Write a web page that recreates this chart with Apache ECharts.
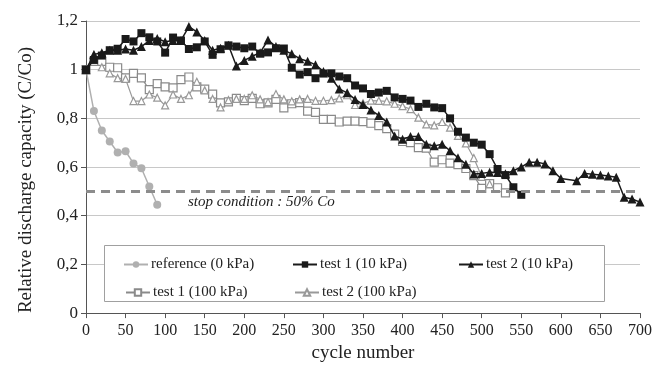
<!DOCTYPE html>
<html>
<head>
<meta charset="utf-8">
<script src="https://cdn.jsdelivr.net/npm/echarts@6/dist/echarts.min.js"></script>
<style>
html, body { margin: 0; background: #fff; }
#chart { width: 655px; height: 368px; }
</style>
</head>
<body>
<div id="chart"></div>
<script>
// cycle numbers shared by every series (one measurement every 10 cycles)
const cycles = [0, 10, 20, 30, 40, 50, 60, 70, 80, 90, 100, 110, 120, 130, 140, 150, 160, 170, 180, 190,
	200, 210, 220, 230, 240, 250, 260, 270, 280, 290, 300, 310, 320, 330, 340, 350, 360, 370, 380, 390,
	400, 410, 420, 430, 440, 450, 460, 470, 480, 490, 500, 510, 520, 530, 540, 550, 560, 570, 580, 590,
	600, 610, 620, 630, 640, 650, 660, 670, 680, 690, 700];

const refValues = [1.0, 0.83, 0.75, 0.705, 0.66, 0.665, 0.615, 0.595, 0.52, 0.445];

const test1Low = [1.0, 1.04, 1.058, 1.08, 1.086, 1.126, 1.116, 1.15, 1.133, 1.116,
	1.07, 1.132, 1.12, 1.085, 1.092, 1.116, 1.061, 1.084, 1.10, 1.095,
	1.088, 1.095, 1.066, 1.071, 1.088, 1.087, 1.008, 0.98, 0.99, 0.965,
	0.984, 0.985, 0.972, 0.965, 0.935, 0.923, 0.90, 0.906, 0.913, 0.886,
	0.88, 0.873, 0.847, 0.86, 0.845, 0.842, 0.80, 0.745, 0.721, 0.70,
	0.692, 0.653, 0.592, 0.567, 0.517, 0.486];

const test2Low = [1.0, 1.062, 1.07, 1.08, 1.08, 1.085, 1.08, 1.095, 1.12, 1.128,
	1.115, 1.12, 1.12, 1.177, 1.155, 1.12, 1.08, 1.088, 1.10, 1.015,
	1.038, 1.055, 1.07, 1.122, 1.095, 1.08, 1.065, 1.045, 1.035, 1.02,
	0.993, 0.965, 0.921, 0.905, 0.878, 0.857, 0.834, 0.812, 0.785, 0.728,
	0.714, 0.726, 0.726, 0.694, 0.687, 0.694, 0.667, 0.638, 0.612, 0.571,
	0.574, 0.579, 0.578, 0.572, 0.585, 0.60, 0.62, 0.62, 0.613, 0.585,
	0.553, null, 0.544, 0.574, 0.57, 0.567, 0.563, 0.558, 0.476, 0.469,
	0.456];

const test1High = [1.0, 1.034, 1.034, 1.01, 1.008, 0.966, 0.985, 0.966, 0.918, 0.943,
	0.929, 0.925, 0.959, 0.97, 0.929, 0.92, 0.90, 0.864, 0.868, 0.882,
	0.873, 0.882, 0.86, 0.864, 0.878, 0.843, 0.86, 0.865, 0.83, 0.825,
	0.796, 0.796, 0.785, 0.789, 0.789, 0.787, 0.78, 0.77, 0.758, 0.735,
	0.705, 0.70, 0.68, 0.678, 0.62, 0.63, 0.616, 0.61, 0.594, 0.565,
	0.512, 0.532, 0.515, 0.494];

const test2High = [1.0, 1.06, 1.01, 0.985, 0.965, 0.962, 0.871, 0.871, 0.898, 0.885,
	0.853, 0.898, 0.88, 0.895, 0.95, 0.915, 0.88, 0.845, 0.875, 0.88,
	0.88, 0.895, 0.878, 0.867, 0.90, 0.878, 0.87, 0.878, 0.88, 0.872,
	0.872, 0.875, 0.882, 0.895, 0.855, 0.862, 0.873, 0.872, 0.87, 0.86,
	0.85, 0.838, 0.803, 0.775, 0.771, 0.785, 0.762, 0.728, 0.697, 0.637,
	0.56, 0.53];

const stopLevel = 0.5;
const names = ['reference (0 kPa)', 'test 1 (10 kPa)', 'test 2 (10 kPa)', 'test 1 (100 kPa)', 'test 2 (100 kPa)'];

const serif = 'Liberation Serif';

function pairs(values) {
	return values.map((v, i) => [cycles[i], v]);
}

function lineSeries(name, values, symbol, size, fill, stroke, width, z) {
	return {
		name,
		type: 'line',
		data: pairs(values),
		symbol,
		symbolSize: size,
		connectNulls: true,
		z,
		lineStyle: { color: stroke, width },
		itemStyle: { color: fill, borderColor: stroke, borderWidth: fill === '#fff' ? 1.2 : 0 }
	};
}

function legendItem(name, left, top) {
	return {
		data: [name],
		left,
		top,
		z: 10,
		itemWidth: 24,
		itemHeight: 8,
		itemGap: 0,
		selectedMode: false,
		textStyle: { fontFamily: serif, fontSize: 15, color: '#222', padding: [0, 0, 0, -2] }
	};
}

const chart = echarts.init(document.getElementById('chart'));

const series = [
	lineSeries(names[0], refValues, 'circle', 8, '#b0b0b0', '#b0b0b0', 1.5, 2),
	lineSeries(names[3], test1High, 'rect', 8, '#fff', '#8a8a8a', 1.2, 3),
	lineSeries(names[4], test2High, 'triangle', 7, '#fff', '#999999', 1.2, 3),
	lineSeries(names[1], test1Low, 'rect', 8, '#1a1a1a', '#1a1a1a', 1.5, 4),
	lineSeries(names[2], test2Low, 'triangle', 9, '#1a1a1a', '#1a1a1a', 1.5, 4)
];
series[0].markLine = {
	silent: true,
	symbol: 'none',
	label: { show: false },
	lineStyle: { color: '#8c8c8c', type: [9, 6], width: 3 },
	data: [{ yAxis: stopLevel }]
};

chart.setOption({
	animation: false,
	grid: { left: 86, right: 15, top: 21, bottom: 53 },
	xAxis: {
		type: 'value',
		min: 0,
		max: 700,
		interval: 50,
		name: 'cycle number',
		nameLocation: 'middle',
		nameGap: 30,
		nameTextStyle: { fontFamily: serif, fontSize: 19, color: '#222' },
		axisLine: { lineStyle: { color: '#555' } },
		axisTick: { length: 5, lineStyle: { color: '#555' } },
		axisLabel: { fontFamily: serif, fontSize: 16, color: '#222', margin: 10 },
		splitLine: { show: false }
	},
	yAxis: {
		type: 'value',
		min: 0,
		max: 1.2,
		interval: 0.2,
		name: 'Relative discharge capacity (C/Co)',
		nameLocation: 'middle',
		nameGap: 50,
		nameTextStyle: { fontFamily: serif, fontSize: 19, color: '#222', padding: [0, 26, 0, 0] },
		axisLine: { show: true, lineStyle: { color: '#555' } },
		axisTick: { show: true, length: 5, lineStyle: { color: '#555' } },
		axisLabel: {
			fontFamily: serif,
			fontSize: 17,
			color: '#222',
			margin: 8,
			formatter: (v) => String(+v.toFixed(1)).replace('.', ',')
		},
		splitLine: { lineStyle: { color: '#c8c8c8' } }
	},
	legend: [
		legendItem(names[0], 118, 252),
		legendItem(names[1], 287, 252),
		legendItem(names[2], 453, 252),
		legendItem(names[3], 120, 280),
		legendItem(names[4], 289, 280)
	],
	graphic: [
		{
			type: 'rect',
			left: 104,
			top: 245,
			z: 3,
			shape: { width: 500, height: 56 },
			style: { fill: '#fff', stroke: '#a0a0a0', lineWidth: 1 }
		},
		{
			type: 'text',
			left: 188,
			top: 195,
			z: 3,
			style: { text: 'stop condition : 50% Co', font: 'italic 15px "Liberation Serif"', fill: '#222' }
		}
	],
	series
});
</script>
</body>
</html>
